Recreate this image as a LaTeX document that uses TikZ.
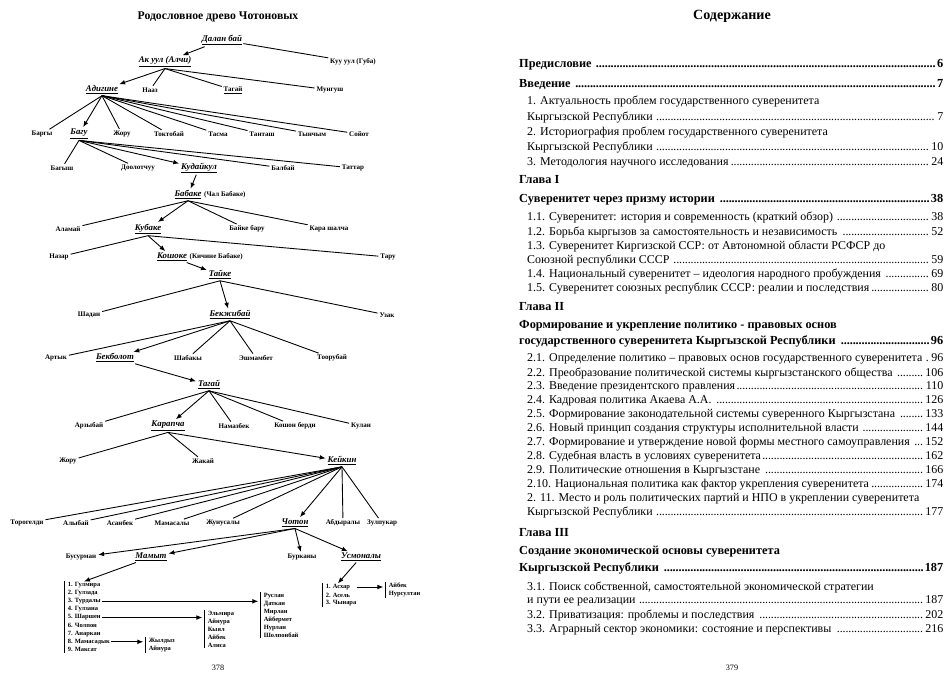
\documentclass[tikz,border=0pt]{standalone}
\usepackage{fontspec}
\setmainfont{Liberation Serif}
\usetikzlibrary{arrows,arrows.meta,positioning}
\tikzstyle{nm}=[inner sep=1pt,font=\fontsize{6}{7}\selectfont\bfseries]
\tikzstyle{hd}=[inner sep=1pt,font=\fontsize{7.5}{8}\selectfont\bfseries\itshape]
\tikzstyle{li}=[anchor=west,inner sep=0.5pt,font=\fontsize{5.5}{6.8}\selectfont\bfseries]
\tikzstyle{sl}=[li,align=left]
\tikzstyle{itm}=[anchor=west,inner sep=0pt,font=\fontsize{10.2}{12}\selectfont]
\tikzstyle{hh}=[itm,font=\fontsize{10.5}{12}\selectfont\bfseries]
\tikzstyle{ar}=[draw,line width=0.75pt,-{Latex[length=5pt,width=4pt]}]
\tikzstyle{vbar}=[line width=0.7pt]
\newcommand{\anc}[1]{\underline{#1}}
\newcommand{\tocdots}{\leaders\hbox to 0.24em{\hss.\hss}\hfill}
\newcommand{\tli}[2]{\makebox[12.48cm][l]{#1\tocdots#2}}
\newcommand{\tlh}[2]{\makebox[12.72cm][l]{#1\tocdots#2}}
\begin{document}
\begin{tikzpicture}[x=0.03cm,y=-0.03cm,%
  every edge/.style={draw,line width=0.75pt,shorten >=0.5pt}]
\fill[white](0,0)rectangle(945,688);
\useasboundingbox(0,0)rectangle(945,688);
% left page: family tree
\node[font=\fontsize{10}{12}\selectfont\bfseries](ttl)at(218,17){Родословное древо Чотоновых};
\node[hd](dal)at(222,40){\anc{Далан бай}};
\node[hd](akl)at(165,62){\anc{Ак уул (Алчи)}};
\node[nm](kul)at(353,62){Куу уул (Губа)};
\node[hd](adg)at(102,90){\anc{Адигине}};
\node[nm](naa)at(150,90){Нааз};
\node[nm](tag)at(233,90){\anc{Тагай}};
\node[nm](mun)at(330,90){Мунгуш};
\node[nm](brg)at(42,134){Баргы};
\node[hd](bag)at(79,134){\anc{Багу}};
\node[nm](jor)at(122,134){Жору};
\node[nm](tok)at(169,134){Токтобай};
\node[nm](tas)at(218,134){Тасма};
\node[nm](tan)at(262,134){Танташ};
\node[nm](tyn)at(312,134){Тынчым};
\node[nm](soi)at(359,134){Сойот};
\node[nm](bgs)at(62,168){Багыш};
\node[nm](dol)at(138,168){Доолотчуу};
\node[hd](kud)at(199,168){\anc{Кудайкул}};
\node[nm](bal)at(283,168){Балбай};
\node[nm](tat)at(353,168){Таттар};
\node[hd](bab)at(188,195){\anc{Бабаке}};
\node[nm,right=0pt of bab](bab2){(Чал Бабаке)};
\node[nm](alm)at(68,229){Аламай};
\node[hd](kub)at(148,229){\anc{Кубаке}};
\node[nm](bbr)at(247,229){Байке бару};
\node[nm](krs)at(329,229){Кара шалча};
\node[nm](naz)at(59,257){Назар};
\node[hd](kos)at(172,257){\anc{Кошоке}};
\node[nm,right=0pt of kos](kos2){(Кичине Бабаке)};
\node[nm](tar)at(388,257){Тару};
\node[hd](tai)at(220,275){\anc{Тайке}};
\node[nm](sha)at(89,315){Шадан};
\node[hd](bek)at(230,315){\anc{Бекжибай}};
\node[nm](uza)at(387,315){Узак};
\node[nm](art)at(56,358){Артык};
\node[hd](bbl)at(115,358){\anc{Бекболот}};
\node[nm](shb)at(188,358){Шабакы};
\node[nm](esh)at(256,358){Эшмамбет};
\node[nm](too)at(332,358){Тоорубай};
\node[hd](tg2)at(209,385){\anc{Тагай}};
\node[nm](arz)at(89,426){Арзыбай};
\node[hd](kar)at(168,426){\anc{Карапча}};
\node[nm](nam)at(234,426){Намазбек};
\node[nm](ksh)at(295,426){Кошон берди};
\node[nm](kln)at(361,426){Кулан};
\node[nm](jr2)at(68,461){Жору};
\node[nm](jak)at(203,461){Жакай};
\node[hd](kei)at(342,461){\anc{Кейкин}};
\node[nm](tor)at(27,523){Торогелди};
\node[nm](aly)at(76,523){Алыбай};
\node[nm](asa)at(120,523){Асанбек};
\node[nm](mms)at(172,523){Мамасалы};
\node[nm](jun)at(223,523){Жунусалы};
\node[hd](cho)at(295,523){\anc{Чотон}};
\node[nm](abd)at(343,523){Абдыралы};
\node[nm](zul)at(382,523){Зулпукар};
\node[nm](bus)at(81,557){Бусурман};
\node[hd](mam)at(151,557){\anc{Мамыт}};
\node[nm](bur)at(302,557){Бурканы};
\node[hd](usm)at(361,557){\anc{Усмоналы}};
\draw (dal) edge[ar] (akl) edge (kul);
\draw (akl.south) edge[ar] (adg) edge (naa) edge (tag) edge (mun);
\draw (adg.south) edge (brg) edge[ar] (bag) edge (jor) edge (tok) edge (tas) edge (tan) edge (tyn) edge (soi);
\draw (bag.south) edge (bgs) edge (dol) edge[ar] (kud) edge (bal) edge (tat);
\draw (kud) edge[ar] (bab);
\draw (bab.south) edge (alm) edge[ar] (kub) edge (bbr) edge (krs);
\draw (kub.south) edge (naz) edge[ar] (kos) edge (tar);
\draw (kos) edge[ar] (tai);
\draw (tai.south) edge (sha) edge[ar] (bek) edge (uza);
\draw (bek.south) edge (art) edge[ar] (bbl) edge (shb) edge (esh) edge (too);
\draw (bbl) edge[ar] (tg2);
\draw (tg2.south) edge (arz) edge[ar] (kar) edge (nam) edge (ksh) edge (kln);
\draw (kar.south) edge (jr2) edge (jak) edge[ar] (kei);
\draw (kei.south) edge (tor) edge (aly) edge (asa) edge (mms) edge (jun) edge[ar] (cho) edge (abd) edge (zul);
\draw (cho.south) edge[ar] (bus) edge[ar] (mam) edge[ar] (bur) edge[ar] (usm);
% children lists
\foreach \i/\t in {1/Гулмира,2/Гулзада,3/Турдалы,4/Гулзана,5/Шаршен,6/Чолпон,7/Анаркан,8/Мамасадык,9/Максат}
  \node[li](m\i)at(67,{577+8.1*\i}){\i. \t};
\draw[vbar]([xshift=-2pt]m1.north west)--([xshift=-2pt]m9.south west);
\node[sl](rl)at(263,615){Руслан\\Даткан\\Мирлан\\Айбермет\\Нурлан\\Шолпонбай};
\node[sl](el)at(207,629){Эльмира\\Айнура\\Кыял\\Айбек\\Алиса};
\node[sl](jl)at(148,645){Жылдыз\\Айнура};
\foreach \l in {rl,el,jl} \draw[vbar]([xshift=-2pt]\l.north west)--([xshift=-2pt]\l.south west);
\draw[ar](mam)--(m1.north);
\draw[ar](m3.east)--([xshift=-4pt]m3.east -| rl.west);
\draw[ar](m5.east)--([xshift=-4pt]m5.east -| el.west);
\draw[ar](m8.east)--([xshift=-4pt]m8.east -| jl.west);
\foreach \i/\t in {1/Асхар,2/Асель,3/Чынара}
  \node[li](u\i)at(325,{579+8*\i}){\i. \t};
\draw[vbar]([xshift=-2pt]u1.north west)--([xshift=-2pt]u3.south west);
\node[sl](al)at(388,590){Айбек\\Нурсултан};
\draw[vbar]([xshift=-2pt]al.north west)--([xshift=-2pt]al.south west);
\draw[ar](usm)--(u1.north);
\draw[ar]([xshift=5pt]u1.east)--([xshift=-4pt]u1.east -| al.west);
\node[font=\fontsize{7}{8}\selectfont](p378)at(218,668){378};
% right page: contents
\node[font=\fontsize{12}{14}\selectfont\bfseries](cnt)at(732,16){Содержание};
\node[hh](pr)at(519,65){\tlh{Предисловие }{6}};
\node[hh](vv)at(519,85){\tlh{Введение }{7}};
\node[itm](v1)at(527,102){1. Актуальность проблем государственного суверенитета};
\node[itm](v1b)at(527,118){\tli{Кыргызской Республики }{7}};
\node[itm](v2)at(527,133){2. Историография проблем государственного суверенитета};
\node[itm](v2b)at(527,148){\tli{Кыргызской Республики }{10}};
\node[itm](v3)at(527,163){\tli{3. Методология научного исследования}{24}};
\node[hh](g1)at(519,180){Глава I};
\node[hh](g1t)at(519,200){\tlh{Суверенитет через призму истории }{38}};
\node[itm](s11)at(527,218){\tli{1.1. Суверенитет: история и современность (краткий обзор) }{38}};
\node[itm](s12)at(527,232){\tli{1.2. Борьба кыргызов за самостоятельность и независимость }{52}};
\node[itm](s13)at(527,247){1.3. Суверенитет Киргизской ССР: от Автономной области РСФСР до};
\node[itm](s13b)at(527,261){\tli{Союзной республики СССР }{59}};
\node[itm](s14)at(527,275){\tli{1.4. Национальный суверенитет – идеология народного пробуждения }{69}};
\node[itm](s15)at(527,289){\tli{1.5. Суверенитет союзных республик СССР: реалии и последствия}{80}};
\node[hh](g2)at(519,307){Глава II};
\node[hh](g2t)at(519,326){Формирование и укрепление политико - правовых основ};
\node[hh](g2b)at(519,341){\tlh{государственного суверенитета Кыргызской Республики }{96}};
\node[itm](s21)at(527,359){\tli{2.1. Определение политико – правовых основ государственного суверенитета }{96}};
\node[itm](s22)at(527,373){\tli{2.2. Преобразование политической системы кыргызстанского общества }{106}};
\node[itm](s23)at(527,387){\tli{2.3. Введение президентского правления}{110}};
\node[itm](s24)at(527,401){\tli{2.4. Кадровая политика Акаева А.А. }{126}};
\node[itm](s25)at(527,415){\tli{2.5. Формирование законодательной системы суверенного Кыргызстана }{133}};
\node[itm](s26)at(527,429){\tli{2.6. Новый принцип создания структуры исполнительной власти }{144}};
\node[itm](s27)at(527,443){\tli{2.7. Формирование и утверждение новой формы местного самоуправления }{152}};
\node[itm](s28)at(527,457){\tli{2.8. Судебная власть в условиях суверенитета}{162}};
\node[itm](s29)at(527,471){\tli{2.9. Политические отношения в Кыргызстане }{166}};
\node[itm](s210)at(527,485){\tli{2.10. Национальная политика как фактор укрепления суверенитета}{174}};
\node[itm](s211)at(527,499){2. 11. Место и роль политических партий и НПО в укреплении суверенитета};
\node[itm](s211b)at(527,513){\tli{Кыргызской Республики }{177}};
\node[hh](g3)at(519,533){Глава III};
\node[hh](g3t)at(519,552){Создание экономической основы суверенитета};
\node[hh](g3b)at(519,568){\tlh{Кыргызской Республики }{187}};
\node[itm](s31)at(527,587){3.1. Поиск собственной, самостоятельной экономической стратегии};
\node[itm](s31b)at(527,601){\tli{и пути ее реализации }{187}};
\node[itm](s32)at(527,615){\tli{3.2. Приватизация: проблемы и последствия }{202}};
\node[itm](s33)at(527,630){\tli{3.3. Аграрный сектор экономики: состояние и перспективы }{216}};
\node[font=\fontsize{7}{8}\selectfont](p379)at(732,668){379};
\end{tikzpicture}
\end{document}
